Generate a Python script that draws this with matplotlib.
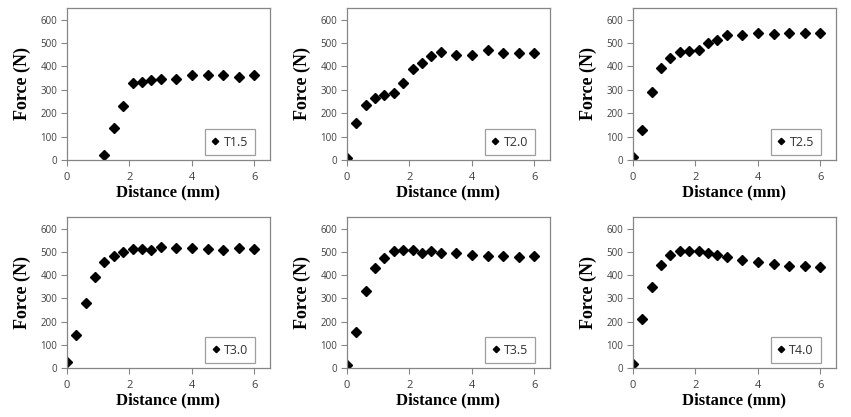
import matplotlib
matplotlib.use("Agg")
import matplotlib.pyplot as plt

x_t15 = [1.2, 1.5, 1.8, 2.1, 2.4, 2.7, 3.0, 3.5, 4.0, 4.5, 5.0, 5.5, 6.0]
y_t15 = [20, 135, 233, 330, 335, 340, 348, 348, 362, 362, 362, 357, 362]

x_full = [0, 0.3, 0.6, 0.9, 1.2, 1.5, 1.8, 2.1, 2.4, 2.7, 3.0, 3.5, 4.0, 4.5, 5.0, 5.5, 6.0]
y_t20 = [7, 160, 234, 265, 277, 288, 330, 390, 416, 443, 460, 450, 450, 472, 458, 458, 458]
y_t25 = [14, 129, 291, 394, 437, 461, 467, 471, 500, 514, 533, 533, 541, 537, 544, 544, 544]
y_t30 = [24, 143, 280, 392, 456, 483, 498, 512, 512, 508, 521, 516, 516, 512, 508, 516, 512]
y_t35 = [14, 155, 331, 430, 475, 504, 509, 509, 496, 504, 496, 496, 486, 482, 482, 478, 482]
y_t40 = [19, 212, 349, 445, 485, 504, 504, 504, 495, 485, 478, 465, 456, 448, 440, 440, 435]

labels = ["T1.5", "T2.0", "T2.5", "T3.0", "T3.5", "T4.0"]
series = [(x_t15, y_t15), (x_full, y_t20), (x_full, y_t25),
          (x_full, y_t30), (x_full, y_t35), (x_full, y_t40)]

W, H = 851, 417
fig = plt.figure(figsize=(W / 100, H / 100), dpi=100)

lefts = [67, 347, 633]
tops = [8, 217]
bottoms = [160, 368]
width = 203

serif = ["Liberation Serif", "DejaVu Serif"]
sans = ["Open Sans", "DejaVu Sans"]
grey = "#868686"

for i, (lab, (xs, ys)) in enumerate(zip(labels, series)):
    r, c = divmod(i, 3)
    l = lefts[c]
    t = tops[r]
    b = bottoms[r]
    ax = fig.add_axes([l / W, 1 - b / H, width / W, (b - t) / H])
    ax.plot(xs, ys, linestyle="none", marker="D", color="black",
            markersize=5.0, label=lab)
    ax.set_xlim(0, 6.5)
    ax.set_ylim(0, 650)
    ax.set_xticks([0, 2, 4, 6])
    ax.set_yticks([0, 100, 200, 300, 400, 500, 600])
    for s in ax.spines.values():
        s.set_color(grey)
        s.set_linewidth(0.9)
    ax.tick_params(axis="both", direction="out", length=4, width=0.8,
                   color=grey, labelsize=7, labelcolor="#404040", pad=3)
    for tl in ax.get_xticklabels() + ax.get_yticklabels():
        tl.set_fontfamily(sans)
    ax.tick_params(axis="x", labelsize=8, pad=5)
    ax.set_xlabel("Distance (mm)", fontfamily=serif, fontweight="bold",
                  fontsize=12, labelpad=1)
    ax.set_ylabel("Force (N)", fontfamily=serif, fontweight="bold",
                  fontsize=13, labelpad=7)
    leg = ax.legend(loc="lower right", frameon=True, fancybox=False,
                    handlelength=0.6, handletextpad=0.35, borderpad=0.55,
                    borderaxespad=0.0,
                    markerscale=0.65, prop={"family": sans, "size": 9},
                    bbox_to_anchor=(0.925, 0.03))
    leg.get_frame().set_edgecolor(grey)
    leg.get_frame().set_linewidth(0.9)
    for txt in leg.get_texts():
        txt.set_color("#303030")

fig.savefig("out.png", dpi=100)
